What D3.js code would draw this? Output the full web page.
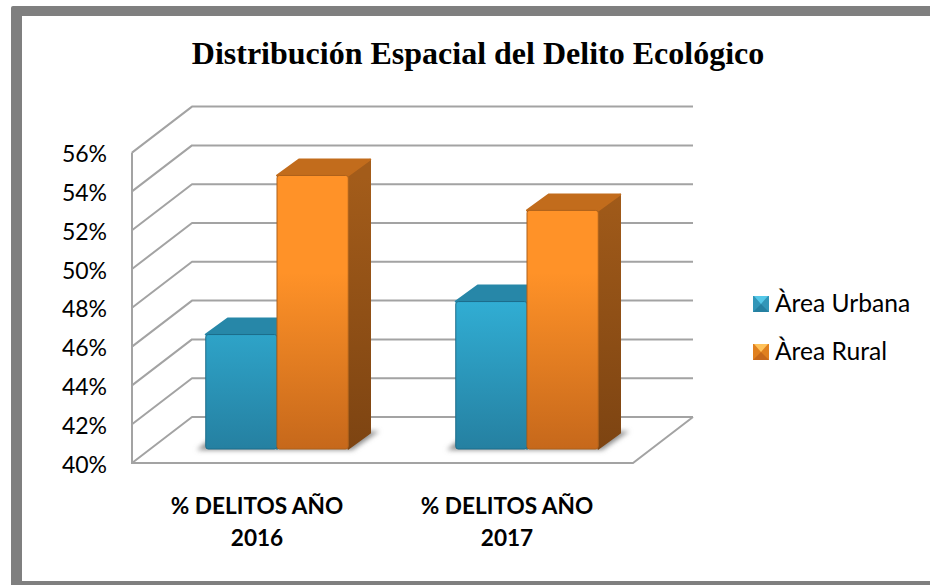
<!DOCTYPE html>
<html>
<head>
<meta charset="utf-8">
<script src="https://cdn.jsdelivr.net/npm/d3@7"></script>
<style>
  html, body { margin: 0; padding: 0; background: #fff; }
  svg { display: block; }
</style>
</head>
<body>
<svg id="chart" width="930" height="585"></svg>
<script>
const categories = ["% DELITOS AÑO 2016", "% DELITOS AÑO 2017"];
const seriesNames = ["Àrea Urbana", "Àrea Rural"];
const urbana = [45.9, 47.6];
const rural = [54.1, 52.3];
const tickValues = [40, 42, 44, 46, 48, 50, 52, 54, 56];

const colors = {
  "Àrea Urbana": { hi: "#33b6dd", lo: "#2580a1", top: "#2787a8", side: "#1f6f8c", edge: "#1c6c8a", tri: "#55c8e8", mid: "#3296b8" },
  "Àrea Rural": { hi: "#ff9228", lo: "#c6681b", top: "#c26c1c", side: "#a35c1a", sideLo: "#7d4412", edge: "#ad611b", tri: "#ffc25a", mid: "#e0801f" }
};

const svg = d3.select("#chart");
const defs = svg.append("defs");

// frame, runs off the right edge of the page
svg.append("rect")
  .attr("x", 11).attr("y", 6)
  .attr("width", 930).attr("height", 590)
  .attr("rx", 2)
  .attr("fill", "#7f7f7f");
svg.append("rect")
  .attr("x", 22).attr("y", 16)
  .attr("width", 920).attr("height", 565)
  .attr("fill", "#fff");

svg.append("text")
  .attr("x", 478).attr("y", 64)
  .attr("text-anchor", "middle")
  .attr("font-family", "Liberation Serif")
  .attr("font-weight", "bold")
  .attr("font-size", 32)
  .attr("fill", "#000")
  .text("Distribución Espacial del Delito Ecológico");

// front plane of the box, the back wall is offset by wallDx / wallDy
const wallDx = 60, wallDy = -46;
const barDx = 22, barDy = -16;
const planeDx = 20, planeDy = -14;

const y = d3.scaleLinear().domain([40, 56]).range([463, 152.6]);
const x = d3.scaleBand().domain(categories)
  .range([132 + planeDx, 632 + planeDx])
  .paddingInner(0.43).paddingOuter(0.215);
const xSeries = d3.scaleBand().domain(seriesNames).range([0, x.bandwidth()]);

const gridColor = "#a3a3a3";
const grid = svg.append("g")
  .attr("fill", "none")
  .attr("stroke", gridColor)
  .attr("stroke-width", 2);

// back wall lines + left wall diagonals
grid.selectAll("path.tick-line")
  .data(tickValues)
  .enter()
  .append("path")
  .attr("class", "tick-line")
  .attr("stroke-linejoin", "round")
  .attr("d", (d) => {
    const py = y(d);
    return `M132,${py}L${132 + wallDx},${py + wallDy}L${632 + wallDx + 1},${py + wallDy}`;
  });

// left edge and floor
grid.append("path")
  .attr("d", `M132,${y(56)}L132,${y(40)}L${632 + 1},${y(40)}L${632 + wallDx + 1},${y(40) + wallDy}`);

// shadow under the bars
defs.append("filter").attr("id", "blur")
  .attr("x", "-20%").attr("y", "-50%").attr("width", "140%").attr("height", "200%")
  .append("feGaussianBlur").attr("stdDeviation", 2.5);

// gradients
seriesNames.forEach((name, i) => {
  const c = colors[name];
  const front = defs.append("linearGradient").attr("id", "front" + i)
    .attr("gradientUnits", "userSpaceOnUse")
    .attr("x1", 0).attr("x2", 0)
    .attr("y1", y(54) + planeDy).attr("y2", y(40) + planeDy);
  front.append("stop").attr("offset", "35%").attr("stop-color", c.hi);
  front.append("stop").attr("offset", "100%").attr("stop-color", c.lo);
  const side = defs.append("linearGradient").attr("id", "side" + i)
    .attr("gradientUnits", "userSpaceOnUse")
    .attr("x1", 0).attr("x2", 0)
    .attr("y1", y(54) + planeDy).attr("y2", y(40) + planeDy);
  side.append("stop").attr("offset", "0%").attr("stop-color", c.side);
  side.append("stop").attr("offset", "100%").attr("stop-color", c.sideLo || c.side);
});

const rows = categories.flatMap((cat, i) => [
  { cat, name: seriesNames[0], value: urbana[i], s: 0 },
  { cat, name: seriesNames[1], value: rural[i], s: 1 }
]);

const barX = (d) => x(d.cat) + xSeries(d.name);
const barW = xSeries.bandwidth();
const barBase = y(40) + planeDy;
const barTop = (d) => y(d.value) + planeDy;

// floor shadows, one per category group
svg.append("g")
  .attr("filter", "url(#blur)")
  .selectAll("path")
  .data(categories)
  .enter()
  .append("path")
  .attr("fill", "#8a8a8a")
  .attr("d", (cat) => {
    const l = x(cat), r = l + x.bandwidth();
    return `M${l - 9},${barBase + 1}L${l + 6},${barBase - 11}L${r + barDx + 9},${barBase - 18}L${r + 4},${barBase + 1}Z`;
  });

const bars = svg.append("g").selectAll("g").data(rows).enter().append("g");

bars.append("path")
  .attr("fill", (d) => `url(#side${d.s})`)
  .attr("stroke", (d) => `url(#side${d.s})`)
  .attr("stroke-linejoin", "round")
  .attr("stroke-width", 1.5)
  .attr("d", (d) => {
    const r = barX(d) + barW, t = barTop(d);
    return `M${r},${t}L${r + barDx},${t + barDy}L${r + barDx},${barBase + barDy}L${r},${barBase}Z`;
  });

bars.append("path")
  .attr("fill", (d) => colors[d.name].top)
  .attr("stroke", (d) => colors[d.name].top)
  .attr("stroke-linejoin", "round")
  .attr("stroke-width", 2)
  .attr("d", (d) => {
    const l = barX(d), t = barTop(d);
    return `M${l},${t}L${l + barDx},${t + barDy}L${l + barW + barDx},${t + barDy}L${l + barW},${t}Z`;
  });

bars.append("rect")
  .attr("x", (d) => barX(d))
  .attr("y", (d) => barTop(d))
  .attr("width", barW)
  .attr("height", (d) => barBase - barTop(d))
  .attr("rx", 2.5)
  .attr("fill", (d) => `url(#front${d.s})`)
  .attr("stroke", (d) => colors[d.name].edge)
  .attr("stroke-width", 1);

// axis labels
svg.append("g")
  .attr("font-family", "Lato")
  .attr("font-size", 23)
  .attr("fill", "#000")
  .selectAll("text")
  .data(tickValues)
  .enter()
  .append("text")
  .attr("x", 107)
  .attr("text-anchor", "end")
  .attr("y", (d) => y(d) + 9.5)
  .text((d) => d + "%");

// category labels, wrapped on two lines
const catLabels = svg.append("g")
  .attr("font-family", "Lato")
  .attr("font-weight", "bold")
  .attr("font-size", 22.6)
  .attr("fill", "#000")
  .attr("text-anchor", "middle")
  .selectAll("text")
  .data(categories)
  .enter()
  .append("text");
catLabels.append("tspan")
  .attr("x", (d, i) => 257 + i * 250).attr("y", 514)
  .text((d) => d.slice(0, d.lastIndexOf(" ")));
catLabels.append("tspan")
  .attr("x", (d, i) => 257 + i * 250).attr("y", 546)
  .text((d) => d.slice(d.lastIndexOf(" ") + 1));

// legend
const legend = svg.append("g").selectAll("g").data(seriesNames).enter().append("g")
  .attr("transform", (d, i) => `translate(753,${296 + i * 48})`);
legend.append("rect")
  .attr("width", 16).attr("height", 16)
  .attr("fill", (d) => colors[d].mid);
legend.append("path")
  .attr("fill", (d) => colors[d].lo)
  .attr("d", "M0,16L16,16L8,8Z");
legend.append("path")
  .attr("fill", (d) => colors[d].tri)
  .attr("d", "M1,0L15,0L8,8Z");
legend.append("text")
  .attr("x", 22).attr("y", 16)
  .attr("font-family", "Lato")
  .attr("font-size", 24.6)
  .attr("fill", "#000")
  .text((d) => d);
</script>
</body>
</html>
